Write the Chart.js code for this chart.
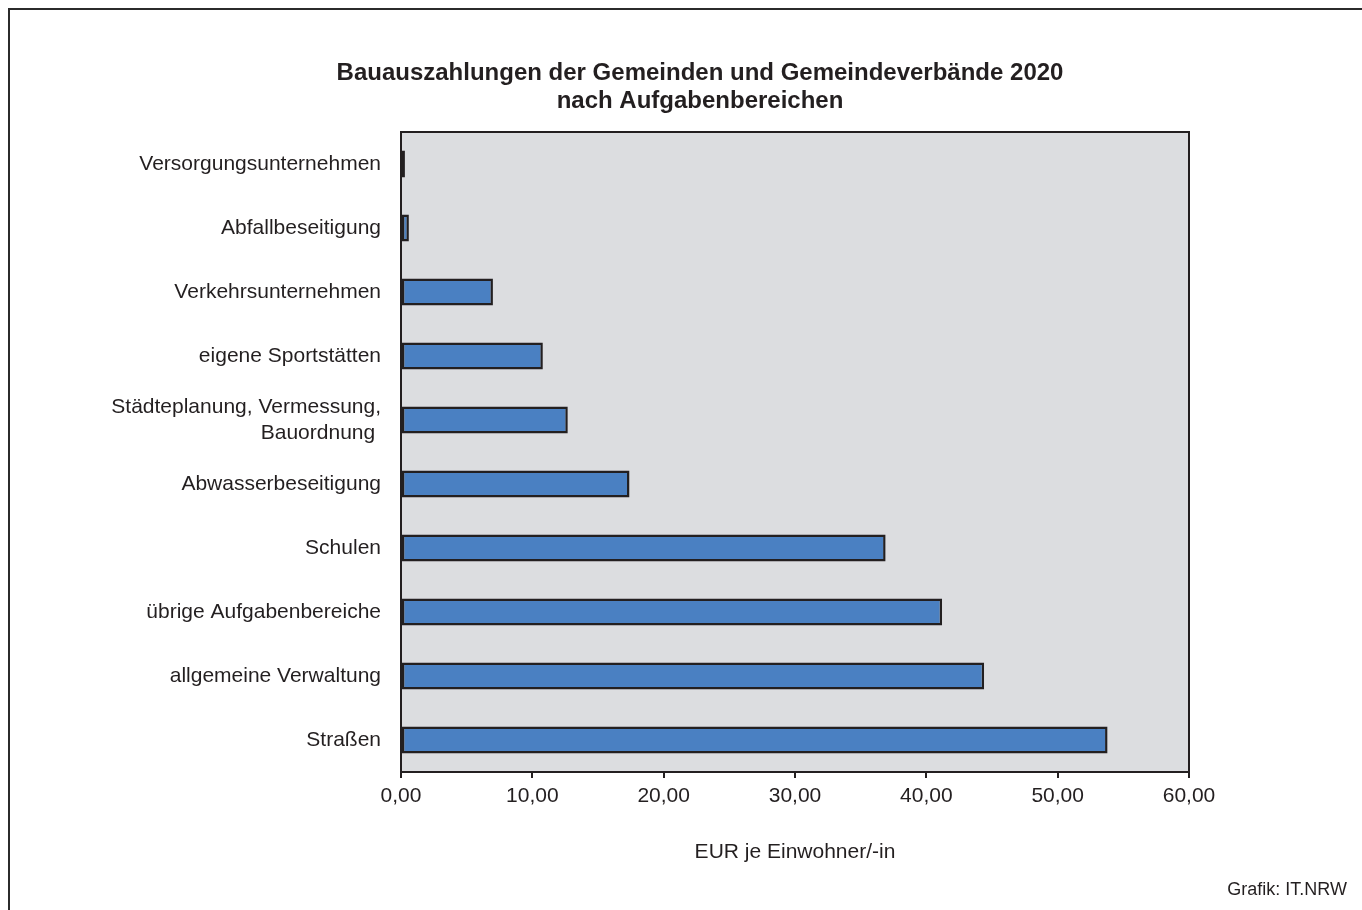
<!DOCTYPE html>
<html lang="de">
<head>
<meta charset="utf-8">
<title>Bauauszahlungen 2020</title>
<script src="https://cdn.jsdelivr.net/npm/chart.js@4"></script>
<style>
  html, body { margin: 0; padding: 0; background: #fff; overflow: hidden; }
  #wrap { position: relative; width: 1362px; height: 910px; overflow: hidden; }
  #rahmen { position: absolute; left: 8px; top: 8px; width: 1400px; height: 1000px;
    border-left: 2px solid #2b2b2b; border-top: 2px solid #2b2b2b; }
  #chart { position: absolute; left: 0; top: 0; }
  #quelle { position: absolute; right: 15px; top: 879px; color: #231f20;
    font: 18px 'Liberation Sans', Arial, sans-serif; }
</style>
</head>
<body>
<div id="wrap">
  <div id="rahmen"></div>
  <canvas id="chart" width="1362" height="910"></canvas>
  <div id="quelle">Grafik: IT.NRW</div>
</div>
<script>
const kategorien = [
  'Versorgungsunternehmen',
  'Abfallbeseitigung',
  'Verkehrsunternehmen',
  'eigene Sportstätten',
  ['Städteplanung, Vermessung,', 'Bauordnung '],
  'Abwasserbeseitigung',
  'Schulen',
  'übrige Aufgabenbereiche',
  'allgemeine Verwaltung',
  'Straßen',
];
const werte = [0.3, 0.6, 7.0, 10.8, 12.7, 17.4, 36.9, 41.2, 44.4, 53.8];
const titelZeilen = ['Bauauszahlungen der Gemeinden und Gemeindeverbände 2020', 'nach Aufgabenbereichen'];
const achsenTitel = 'EUR je Einwohner/-in';
const xMin = 0, xMax = 60, xSchritt = 10;

const TEXT = '#231f20';
const FONT = "'Liberation Sans', Arial, sans-serif";
const fmt = (v) => Number(v).toFixed(2).replace('.', ',');

// grauer Hintergrund + Rahmen der Zeichenflaeche, Titel ueber dem Ganzen zentriert
const plotBox = {
  id: 'plotBox',
  beforeDraw(chart) {
    const { ctx, chartArea: a } = chart;
    ctx.save();
    ctx.fillStyle = '#dcdde0';
    ctx.fillRect(a.left, a.top, a.right - a.left, a.bottom - a.top);
    ctx.restore();
  },
  beforeDatasetsDraw(chart) {
    const { ctx, chartArea: a } = chart;
    ctx.save();
    ctx.strokeStyle = TEXT;
    ctx.lineWidth = 2;
    ctx.strokeRect(a.left, a.top, a.right - a.left, a.bottom - a.top);
    ctx.restore();
  },
  afterDraw(chart) {
    const ctx = chart.ctx;
    ctx.save();
    ctx.fillStyle = TEXT;
    ctx.font = `bold 24px ${FONT}`;
    ctx.textAlign = 'center';
    ctx.textBaseline = 'middle';
    titelZeilen.forEach((z, i) => ctx.fillText(z, 700, 73 + i * 28));
    ctx.restore();
  },
};

new Chart(document.getElementById('chart'), {
  type: 'bar',
  data: {
    labels: kategorien,
    datasets: [{
      data: werte,
      backgroundColor: '#4a80c2',
      borderColor: TEXT,
      borderWidth: 2.5,
      borderSkipped: false,
      categoryPercentage: 1,
      barPercentage: 0.42,
    }],
  },
  options: {
    indexAxis: 'y',
    responsive: false,
    animation: false,
    layout: { padding: { left: 0, top: 132, bottom: 0, right: 173 } },
    plugins: {
      legend: { display: false },
      tooltip: { enabled: false },
      title: { display: false },
    },
    scales: {
      x: {
        min: xMin, max: xMax,
        afterFit: (s) => { s.height = 138; },
        ticks: { stepSize: xSchritt, callback: (v) => fmt(v), color: TEXT, padding: 6,
          font: { family: FONT, size: 21 } },
        grid: { drawOnChartArea: false, drawTicks: true, tickLength: 6, color: TEXT, lineWidth: 2 },
        border: { display: false },
        title: {
          display: true, text: achsenTitel, color: TEXT,
          font: { family: FONT, size: 21, lineHeight: 1.2 },
          padding: { top: 0, bottom: 45 },
        },
      },
      y: {
        afterFit: (s) => { s.width = 401; },
        ticks: { color: TEXT, padding: 20, font: { family: FONT, size: 21, lineHeight: 1.25 } },
        grid: { display: false, drawTicks: false },
        border: { display: false },
      },
    },
  },
  plugins: [plotBox],
});
</script>
</body>
</html>
